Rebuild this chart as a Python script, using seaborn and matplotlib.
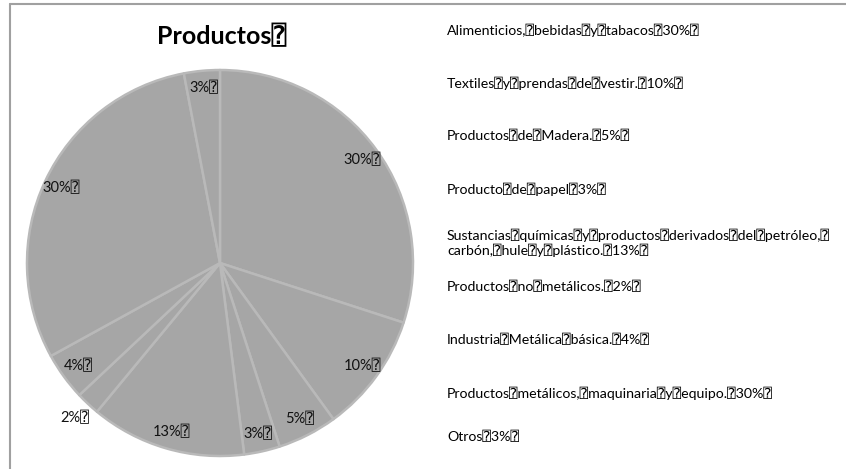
import matplotlib
matplotlib.use("Agg")
import matplotlib.pyplot as plt
import seaborn as sns
import numpy as np
from matplotlib.lines import Line2D

categories = [
    "Alimenticios,\u2370bebidas\u2370y\u2370tabacos\u2370",
    "Textiles\u2370y\u2370prendas\u2370de\u2370vestir.\u2370",
    "Productos\u2370de\u2370Madera.\u2370",
    "Producto\u2370de\u2370papel\u2370",
    "Sustancias\u2370químicas\u2370y\u2370productos\u2370derivados\u2370del\u2370petróleo,\u2370\ncarbón,\u2370hule\u2370y\u2370plástico.\u2370",
    "Productos\u2370no\u2370metálicos.\u2370",
    "Industria\u2370Metálica\u2370básica.\u2370",
    "Productos\u2370metálicos,\u2370maquinaria\u2370y\u2370equipo.\u2370",
    "Otros\u2370",
]
values = [30, 10, 5, 3, 13, 2, 4, 30, 3]
title = "Productos\u2370"

sns.set_theme(style="white")
plt.rcParams["font.family"] = ["Lato", "DejaVu Sans", "DejaVu Sans Mono"]

W, H = 846, 469
fig = plt.figure(figsize=(W / 100, H / 100), dpi=100)
fig.patch.set_facecolor("white")

cx, cy, r = 220, 263, 193
ax = fig.add_axes([(cx - r) / W, 1 - (cy + r) / H, 2 * r / W, 2 * r / H])

colors = ["#a6a6a6"] * len(values)
wedges, texts, autotexts = ax.pie(
    values,
    colors=colors,
    startangle=90,
    counterclock=False,
    radius=1,
    autopct="%1.0f%%\u2370",
    pctdistance=0.91,
    wedgeprops=dict(edgecolor="#b9b9b9", linewidth=1.8),
    textprops=dict(fontsize=10.5, color="#111111"),
)
# very small slices get their label just outside the pie (best-fit style)
for w, t, v in zip(wedges, autotexts, values):
    w.set_joinstyle("round")
    if v < 3:
        ang = np.deg2rad((w.theta1 + w.theta2) / 2)
        t.set_position((1.1 * np.cos(ang), 1.1 * np.sin(ang)))
ax.set_xlim(-1, 1)
ax.set_ylim(-1, 1)
ax.set_aspect("equal")
ax.axis("off")

fig.text(222 / W, 1 - 36 / H, title, ha="center", va="center",
         fontsize=18, fontweight="bold", color="black")

legend_y = [30, 83, 136, 189, 242.5, 287, 340, 393, 437]
for cat, v, yy in zip(categories, values, legend_y):
    fig.text(447 / W, 1 - yy / H, f"{cat}{v}%\u2370", ha="left", va="center",
             fontsize=10.2, color="black", linespacing=1.15)

border_color = "#a0a0a0"
fig.add_artist(Line2D([10 / W, 1], [1 - 4 / H, 1 - 4 / H], transform=fig.transFigure,
                      color=border_color, linewidth=1.5))
fig.add_artist(Line2D([10 / W, 10 / W], [0, 1 - 4 / H], transform=fig.transFigure,
                      color=border_color, linewidth=1.5))

fig.savefig("out.png", dpi=100, facecolor="white")
